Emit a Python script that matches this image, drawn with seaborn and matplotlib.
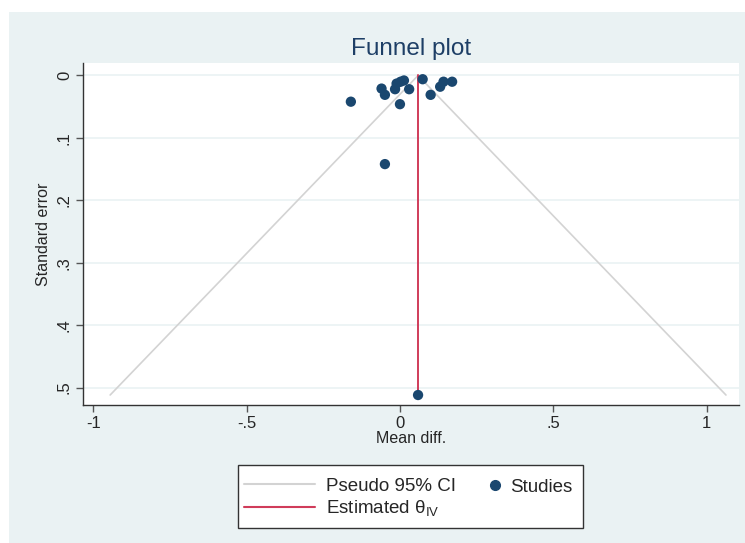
import numpy as np
import pandas as pd
import matplotlib.pyplot as plt
import matplotlib.ticker as mticker
import matplotlib.patches as mpatches
import seaborn as sns

# studies
mean_diff = [-0.160, -0.060, -0.049, -0.016, -0.011, 0.002, 0.013, 0.030,
             0.000, 0.074, 0.100, 0.131, 0.142, 0.170, -0.049, 0.059]
std_err = [0.042, 0.021, 0.031, 0.022, 0.013, 0.010, 0.008, 0.022,
           0.046, 0.006, 0.031, 0.018, 0.010, 0.010, 0.142, 0.512]
theta_iv = 0.059
x_ticks = [-1, -0.5, 0, 0.5, 1]
y_ticks = [0, 0.1, 0.2, 0.3, 0.4, 0.5]

df = pd.DataFrame({"Mean diff.": mean_diff, "Standard error": std_err})
se_max = max(std_err)
funnel = pd.DataFrame({
    "se": [0, se_max, 0, se_max],
    "x": [theta_iv, theta_iv - 1.96 * se_max, theta_iv, theta_iv + 1.96 * se_max],
    "side": ["lo", "lo", "hi", "hi"],
})

sns.set_style("white")
plt.rcParams["font.family"] = ["Liberation Sans", "DejaVu Sans"]

W, H = 745, 543
bg = "#eaf2f3"
fig = plt.figure(figsize=(W / 100, H / 100), dpi=100, facecolor="white")
# light panel (white strip on left/top like the screenshot)
fig.patches.append(mpatches.Rectangle((9 / W, 0), 1, 1 - 12 / H, transform=fig.transFigure,
                                      facecolor=bg, edgecolor="none", zorder=-10))

ax = fig.add_axes([83 / W, 1 - 405 / H, (739 - 83) / W, (405 - 63) / H])
ax.set_facecolor("white")

for side, g in funnel.groupby("side"):
    ax.plot(g["x"], g["se"], color="#d3d3d3", lw=1.2)
ax.plot([theta_iv, theta_iv], [0, se_max], color="#d03c5a", lw=1.4)
sns.scatterplot(data=df, x="Mean diff.", y="Standard error", ax=ax,
                color="#1a476f", s=55, edgecolor="none", zorder=5, legend=False)

ax.set_xlim(-1.033, 1.105)
ax.set_ylim(0.528, -0.02)
ax.set_xticks(x_ticks)
ax.set_yticks(y_ticks)
fmt = mticker.FuncFormatter(lambda v, p: "0" if v == 0 else
                            (("%g" % v).replace("0.", ".") if abs(v) < 1 else "%g" % v))
ax.xaxis.set_major_formatter(fmt)
ax.yaxis.set_major_formatter(fmt)
ax.tick_params(axis="both", direction="out", length=5, width=1, color="#555555",
               labelsize=12, bottom=True, left=True, pad=3)
plt.setp(ax.get_yticklabels(), rotation=90, va="center")
ax.grid(axis="y", color=bg, lw=1.2)
ax.set_axisbelow(True)
for s in ["top", "right"]:
    ax.spines[s].set_visible(False)
for s in ["left", "bottom"]:
    ax.spines[s].set_color("#333333")
    ax.spines[s].set_linewidth(1)

ax.set_xlabel("Mean diff.", fontsize=11.5, labelpad=0)
ax.set_ylabel("Standard error", fontsize=11.5, labelpad=4)
ax.set_title("Funnel plot", fontsize=17.5, color="#1e3f66", pad=6)

# legend box below the plot
fig.patches.append(mpatches.Rectangle((238 / W, 1 - 528 / H), 345 / W, 63 / H,
                                      transform=fig.transFigure, facecolor="white",
                                      edgecolor="#333333", lw=1, zorder=1))
h_ci = plt.Line2D([], [], color="#d3d3d3", lw=1.5)
h_th = plt.Line2D([], [], color="#d03c5a", lw=1.5)
h_st = plt.Line2D([], [], color="#1a476f", marker="o", ls="none", markersize=7)
leg1 = fig.legend([h_ci, h_th], ["Pseudo 95% CI", "Estimated θ$_{\\mathregular{IV}}$"],
                  loc="center left", bbox_to_anchor=(244 / W, 1 - 498.5 / H),
                  frameon=False, fontsize=13.5, handlelength=3.8, handletextpad=0.6,
                  borderpad=0, borderaxespad=0, labelspacing=0.2)
leg2 = fig.legend([h_st], ["Studies"], loc="center left",
                  bbox_to_anchor=(488 / W, 1 - 487 / H), frameon=False, fontsize=13.5,
                  handlelength=0.7, handletextpad=0.5, borderpad=0, borderaxespad=0)
leg1.set_zorder(2)
leg2.set_zorder(2)

fig.savefig("out.png", dpi=100, facecolor="white")
